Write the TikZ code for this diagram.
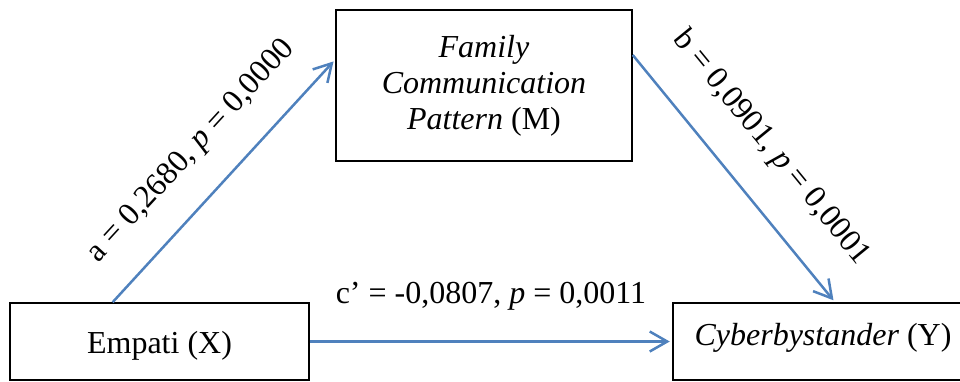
\documentclass[tikz,border=0pt]{standalone}
\usepackage{fontspec}
\setmainfont{Liberation Serif}
\usetikzlibrary{arrows.meta,calc}
\definecolor{effectblue}{HTML}{4F81BD}
\begin{document}
\begin{tikzpicture}[x = 0.4pt,y = 0.4pt,
	var/.style = {draw,line width = 0.6pt,inner sep = 0pt,align = center,font = \fontsize{12.8}{14.4}\selectfont},
	effect/.style = {draw = effectblue,line width = 1pt,shorten >= 1pt,-{Straight Barb[length = 7pt,width = 8pt]}},
	coef/.style = {font = \fontsize{12.8}{14.4}\selectfont,inner sep = 0pt}]
	\useasboundingbox (0,0) rectangle (960,381);
	\clip (0,0) rectangle (960,381);
	\node[var,minimum width = 119.6pt,minimum height = 30.8pt,text height = 12pt,text depth = 2.8pt] (X) at (159.5,39.5) {Empati (X)};
	\node[var,minimum width = 118.4pt,minimum height = 60.4pt] (M) at (484,295.5) {\textit{Family}\\\textit{Communication}\\\textit{Pattern} (M)};
	\node[var,minimum width = 120pt,minimum height = 30.8pt,text height = 8.7pt,text depth = 5.9pt] (Y) at (823,39.5) {\textit{Cyberbystander} (Y)};
	\draw[effect] ($(X.north west)!0.344!(X.north east)$) -- ($(M.north west)!0.33!(M.south west)$) node[coef,midway,sloped,above = 11.4pt] {a = 0,2680, \textit{p} = 0,0000};
	\draw[effect] ($(M.north east)!0.3!(M.south east)$) -- ($(Y.north west)!0.54!(Y.north east)$) node[coef,midway,sloped,above = 13pt] {b = 0,0901, \textit{p} = 0,0001};
	\draw[effect] (X.east) -- (Y.west) node[coef,midway,above = 12pt] {c’ = -0,0807, \textit{p} = 0,0011};
\end{tikzpicture}
\end{document}
